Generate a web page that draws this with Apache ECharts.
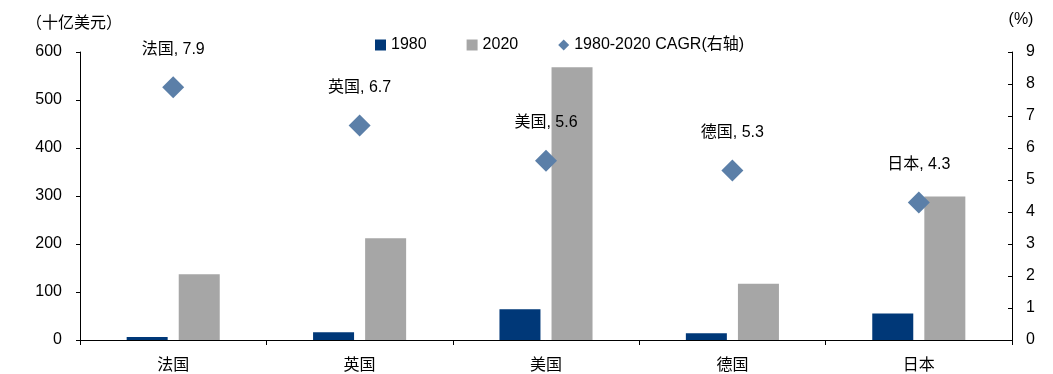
<!DOCTYPE html>
<html>
<head>
<meta charset="utf-8">
<script src="https://cdn.jsdelivr.net/npm/echarts@6/dist/echarts.min.js"></script>
<style>
  html, body { margin: 0; padding: 0; background: #fff; }
  #chart { width: 1053px; height: 374px; }
</style>
</head>
<body>
<div id="chart"></div>
<script>
// Countries on the category axis
var categories = ['法国', '英国', '美国', '德国', '日本'];
// Values in billions of US dollars
var values1980 = [6, 16, 64, 14, 55];
var values2020 = [137, 212, 568, 117, 299];
// Compound annual growth rate 1980-2020, percent (right axis)
var cagr = [7.9, 6.7, 5.6, 5.3, 4.3];
// Axis ticks
var leftTicks = [0, 100, 200, 300, 400, 500, 600];
var rightTicks = [0, 1, 2, 3, 4, 5, 6, 7, 8, 9];

var FONT = '"Liberation Sans", Arial, "Noto Sans CJK SC", sans-serif';
var CJK = '"Noto Sans CJK SC", "Liberation Sans", sans-serif';

var chart = echarts.init(document.getElementById('chart'), null, { renderer: 'canvas' });

chart.setOption({
  animation: false,
  textStyle: { fontFamily: FONT, color: '#000' },
  grid: { left: 80, right: 41, top: 52, bottom: 34, containLabel: false },
  legend: {
    top: 32,
    left: 370,
    itemWidth: 11,
    itemHeight: 11,
    itemGap: 40,
    textStyle: { fontSize: 16, fontFamily: FONT, color: '#000' },
    data: [
      { name: '1980', icon: 'rect' },
      { name: '2020', icon: 'rect' },
      { name: '1980-2020 CAGR(右轴)', icon: 'diamond' }
    ]
  },
  xAxis: {
    type: 'category',
    data: categories,
    axisLine: { lineStyle: { color: '#000', width: 1 } },
    axisTick: { show: true, length: 5, lineStyle: { color: '#000' } },
    axisLabel: { fontSize: 16, fontFamily: CJK, color: '#000', margin: 16 }
  },
  yAxis: [
    {
      type: 'value',
      min: leftTicks[0],
      max: leftTicks[leftTicks.length - 1],
      interval: 100,
      name: '（十亿美元）',
      nameLocation: 'end',
      nameGap: 22,
      nameTextStyle: { fontSize: 16, fontFamily: CJK, color: '#000', padding: [0, 12, 0, 0] },
      axisLine: { show: true, lineStyle: { color: '#000' } },
      axisTick: { show: true, length: 4, inside: false, lineStyle: { color: '#000' } },
      axisLabel: { fontSize: 16, color: '#000', margin: 18 },
      splitLine: { show: false }
    },
    {
      type: 'value',
      min: rightTicks[0],
      max: rightTicks[rightTicks.length - 1],
      interval: 1,
      position: 'right',
      name: '(%)',
      nameLocation: 'end',
      nameGap: 24,
      nameTextStyle: { fontSize: 16, color: '#000', padding: [0, 0, 0, 18] },
      axisLine: { show: true, lineStyle: { color: '#000' } },
      axisTick: { show: true, length: 4, inside: true, lineStyle: { color: '#000' } },
      axisLabel: { fontSize: 16, color: '#000', margin: 14 },
      splitLine: { show: false }
    }
  ],
  series: [
    {
      name: '1980',
      type: 'bar',
      data: values1980,
      barWidth: 41,
      barGap: '27%',
      itemStyle: { color: '#003878' }
    },
    {
      name: '2020',
      type: 'bar',
      data: values2020,
      barWidth: 41,
      barGap: '27%',
      itemStyle: { color: '#a6a6a6' }
    },
    {
      name: '1980-2020 CAGR(右轴)',
      type: 'scatter',
      yAxisIndex: 1,
      symbol: 'diamond',
      symbolSize: 22,
      data: cagr,
      itemStyle: { color: '#5b7fa8', opacity: 1 },
      label: {
        show: true,
        position: 'top',
        distance: 19,
        fontSize: 16,
        fontFamily: FONT,
        color: '#000',
        formatter: function (p) {
          return categories[p.dataIndex] + ', ' + p.value;
        }
      }
    }
  ]
});
</script>
</body>
</html>
